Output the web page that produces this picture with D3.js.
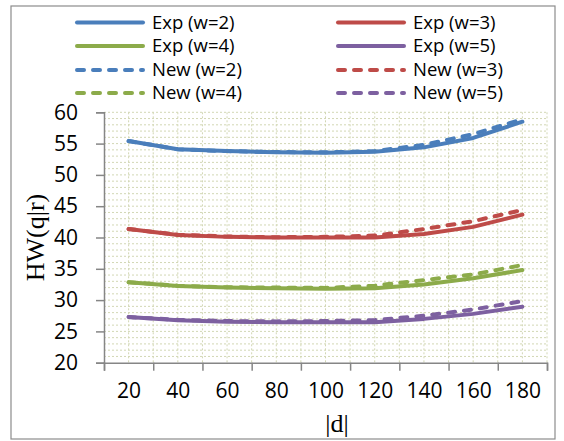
<!DOCTYPE html>
<html>
<head>
<meta charset="utf-8">
<script src="https://cdn.jsdelivr.net/npm/d3@7"></script>
<style>
  body { margin: 0; background: #fff; }
  .canvas svg { display: block; }
</style>
</head>
<body>
<div class="canvas"></div>
<script>
// |d| values (one point every 20)
const dVals = [20, 40, 60, 80, 100, 120, 140, 160, 180];

// HW(q|r)
const expW2 = [55.4, 54.1, 53.8, 53.6, 53.55, 53.7, 54.4, 55.9, 58.5];
const expW3 = [41.35, 40.4, 40.1, 40.0, 40.0, 40.0, 40.55, 41.7, 43.65];
const expW4 = [32.85, 32.25, 32.0, 31.9, 31.8, 31.9, 32.5, 33.5, 34.8];
const expW5 = [27.3, 26.8, 26.55, 26.45, 26.45, 26.45, 27.0, 27.8, 28.95];
const newW2 = [55.4, 54.1, 53.8, 53.65, 53.6, 53.8, 54.8, 56.5, 58.9];
const newW3 = [41.35, 40.45, 40.15, 40.05, 40.1, 40.3, 41.35, 42.6, 44.4];
const newW4 = [32.85, 32.3, 32.05, 32.0, 31.95, 32.3, 33.2, 34.1, 35.6];
const newW5 = [27.3, 26.85, 26.65, 26.6, 26.65, 26.8, 27.5, 28.5, 29.85];

const seriesNames = ['Exp (w=2)', 'Exp (w=3)', 'Exp (w=4)', 'Exp (w=5)',
                     'New (w=2)', 'New (w=3)', 'New (w=4)', 'New (w=5)'];

const yTicks = [20, 25, 30, 35, 40, 45, 50, 55, 60];
const xLabels = [20, 40, 60, 80, 100, 120, 140, 160, 180];

const dims = { width: 564, height: 441 };
const plot = { left: 104, right: 547, top: 112.3, bottom: 362.7 };

const svg = d3.select('.canvas')
    .append('svg')
    .attr('width', dims.width)
    .attr('height', dims.height);

// outer frame
svg.append('rect')
    .attr('x', 11).attr('y', 6)
    .attr('width', 544).attr('height', 433)
    .attr('fill', '#fff')
    .attr('stroke', '#8c8c8c')
    .attr('stroke-width', 1.2);

const x = d3.scaleLinear().domain([10, 190]).range([plot.left, plot.right]);
const y = d3.scaleLinear().domain([20, 60]).range([plot.bottom, plot.top]);

// grid
const grid = svg.append('g')
    .attr('stroke', '#d2d7b4')
    .attr('stroke-width', 1)
    .attr('stroke-dasharray', '2,2');

grid.selectAll('.hg')
    .data(d3.range(21, 61, 1))
    .enter().append('line')
    .attr('x1', plot.left).attr('x2', plot.right)
    .attr('y1', d => y(d)).attr('y2', d => y(d));

grid.selectAll('.vg')
    .data(d3.range(20, 191, 10))
    .enter().append('line')
    .attr('y1', plot.top).attr('y2', plot.bottom)
    .attr('x1', d => x(d)).attr('x2', d => x(d));

// axes
const yAxis = d3.axisLeft(y)
    .tickValues(yTicks)
    .tickSize(8)
    .tickPadding(18);

const yG = svg.append('g')
    .attr('transform', `translate(${plot.left},0)`)
    .call(yAxis);

const xTickAxis = d3.axisBottom(x)
    .tickValues(d3.range(10, 191, 20))
    .tickSize(8)
    .tickFormat('');

const xLabelAxis = d3.axisBottom(x)
    .tickValues(xLabels)
    .tickSize(0)
    .tickPadding(20);

const xG = svg.append('g')
    .attr('transform', `translate(0,${plot.bottom})`)
    .call(xTickAxis);

const xL = svg.append('g')
    .attr('transform', `translate(0,${plot.bottom})`)
    .call(xLabelAxis);
xL.select('.domain').remove();

[yG, xG, xL].forEach(g => {
    g.selectAll('.domain, line').attr('stroke', '#868686').attr('stroke-width', 1.5);
    g.selectAll('text')
        .attr('fill', '#000')
        .style('font-family', '"Open Sans", "Liberation Sans", sans-serif')
        .style('font-size', '21px');
});

// axis titles
svg.append('text')
    .attr('transform', `translate(44,${(plot.top + plot.bottom) / 2}) rotate(-90)`)
    .attr('text-anchor', 'middle')
    .style('font-family', '"Liberation Serif", "DejaVu Serif", serif')
    .style('font-size', '26px')
    .text('HW(q|r)');

svg.append('text')
    .attr('x', 337).attr('y', 432)
    .attr('text-anchor', 'middle')
    .style('font-family', '"Liberation Serif", "DejaVu Serif", serif')
    .style('font-size', '26px')
    .text('|d|');

// series
const colors = ['#4a7ebb', '#be4b48', '#8cab4a', '#7d60a0'];
const allValues = [expW2, expW3, expW4, expW5, newW2, newW3, newW4, newW5];
const series = seriesNames.map((name, i) => ({
    name: name,
    values: allValues[i],
    color: colors[i % 4],
    dashed: i >= 4
}));

const line = d3.line()
    .x((d, i) => x(dVals[i]))
    .y(d => y(d));

const dash = '7,9';

svg.append('g').selectAll('path')
    .data(series)
    .enter().append('path')
    .attr('d', d => line(d.values))
    .attr('fill', 'none')
    .attr('stroke', d => d.color)
    .attr('stroke-width', 4)
    .attr('stroke-linecap', 'round')
    .attr('stroke-linejoin', 'round')
    .attr('stroke-dasharray', d => d.dashed ? dash : null);

// legend (two columns, four rows)
const legRows = [22.5, 46, 70, 93];
const legCols = [75, 336];

const legend = svg.append('g');
series.forEach((s, i) => {
    const col = i % 2;
    const row = Math.floor(i / 2);
    const gx = legCols[col], gy = legRows[row];
    legend.append('line')
        .attr('x1', gx + 2).attr('x2', gx + 68)
        .attr('y1', gy).attr('y2', gy)
        .attr('stroke', s.color)
        .attr('stroke-width', 4)
        .attr('stroke-linecap', 'round')
        .attr('stroke-dasharray', s.dashed ? dash : null);
    legend.append('text')
        .attr('x', gx + 77).attr('y', gy)
        .attr('dy', '0.35em')
        .style('font-family', '"Open Sans", "Liberation Sans", sans-serif')
        .style('font-size', '18.5px')
        .text(s.name);
});
</script>
</body>
</html>
